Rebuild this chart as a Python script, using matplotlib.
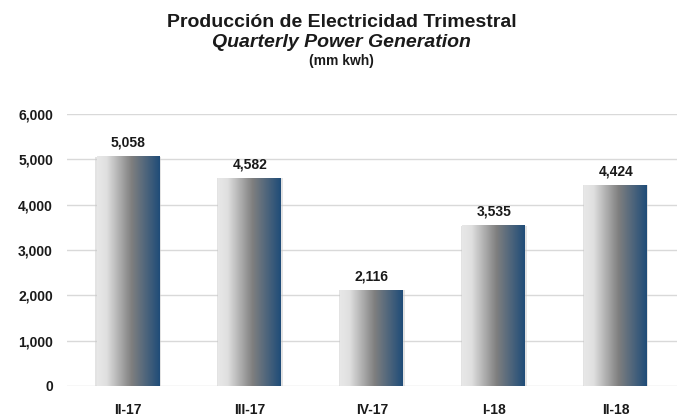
import numpy as np
import matplotlib
matplotlib.use("Agg")
import matplotlib.pyplot as plt
from matplotlib.colors import LinearSegmentedColormap

plt.rcParams['font.family'] = ['Liberation Sans Narrow', 'Liberation Sans', 'DejaVu Sans']

quarters = ['II-17', 'III-17', 'IV-17', 'I-18', 'II-18']
generation = [5058, 4582, 2116, 3535, 4424]

# grey -> dark blue left-to-right shading of the bars
cmap = LinearSegmentedColormap.from_list(
    'bar', [(0.0, '#e8e8e8'), (0.15, '#e0e0e0'), (0.55, '#7f7f7f'), (1.0, '#1f4c78')])
grad = np.linspace(0, 1, 256).reshape(1, -1)

fig = plt.figure(figsize=(6.83, 4.19), dpi=100)
ax = fig.add_axes([0.098, 0.079, 0.893, 0.649])

x = np.arange(len(quarters))
width = 0.515
bars = ax.bar(x, generation, width=width, color='none', edgecolor='none', zorder=2)
for b, v in zip(bars, generation):
    x0 = b.get_x()
    # soft shadow
    ax.bar(b.get_x() + width / 2, v, width=width + 0.02, color='#c8c8c8', alpha=0.5,
           edgecolor='none', zorder=1.5)
    ax.imshow(grad, cmap=cmap, aspect='auto', extent=(x0, x0 + width, 0, v),
              zorder=2, interpolation='bilinear')
    ax.text(b.get_x() + width / 2, v + 150, f'{v:,}', ha='center', va='bottom',
            fontsize=10, fontweight='bold', color='#1a1a1a')

ax.set_xlim(-0.5, len(quarters) - 0.5)
ax.set_ylim(0, 6000)
ax.set_yticks(np.arange(0, 6001, 1000))
ax.set_yticklabels([f'{t:,}' for t in range(0, 6001, 1000)])
ax.set_xticks(x)
ax.set_xticklabels(quarters)
ax.grid(axis='y', color='#d9d9d9', linewidth=1, zorder=0)
ax.set_axisbelow(True)
for s in ax.spines.values():
    s.set_visible(False)
ax.tick_params(length=0, labelsize=10, colors='#1a1a1a')
ax.tick_params(axis='x', pad=12)
ax.tick_params(axis='y', pad=10)
for lab in ax.get_xticklabels() + ax.get_yticklabels():
    lab.set_fontweight('bold')

fig.text(0.5, 0.936, 'Producción de Electricidad Trimestral', ha='center', va='baseline',
         fontsize=14, fontweight='bold', color='#1a1a1a')
fig.text(0.5, 0.888, 'Quarterly Power Generation', ha='center', va='baseline',
         fontsize=14, fontweight='bold', style='italic', color='#1a1a1a')
fig.text(0.5, 0.845, '(mm kwh)', ha='center', va='baseline',
         fontsize=10, fontweight='bold', color='#1a1a1a')

fig.savefig('out.png', dpi=100)
